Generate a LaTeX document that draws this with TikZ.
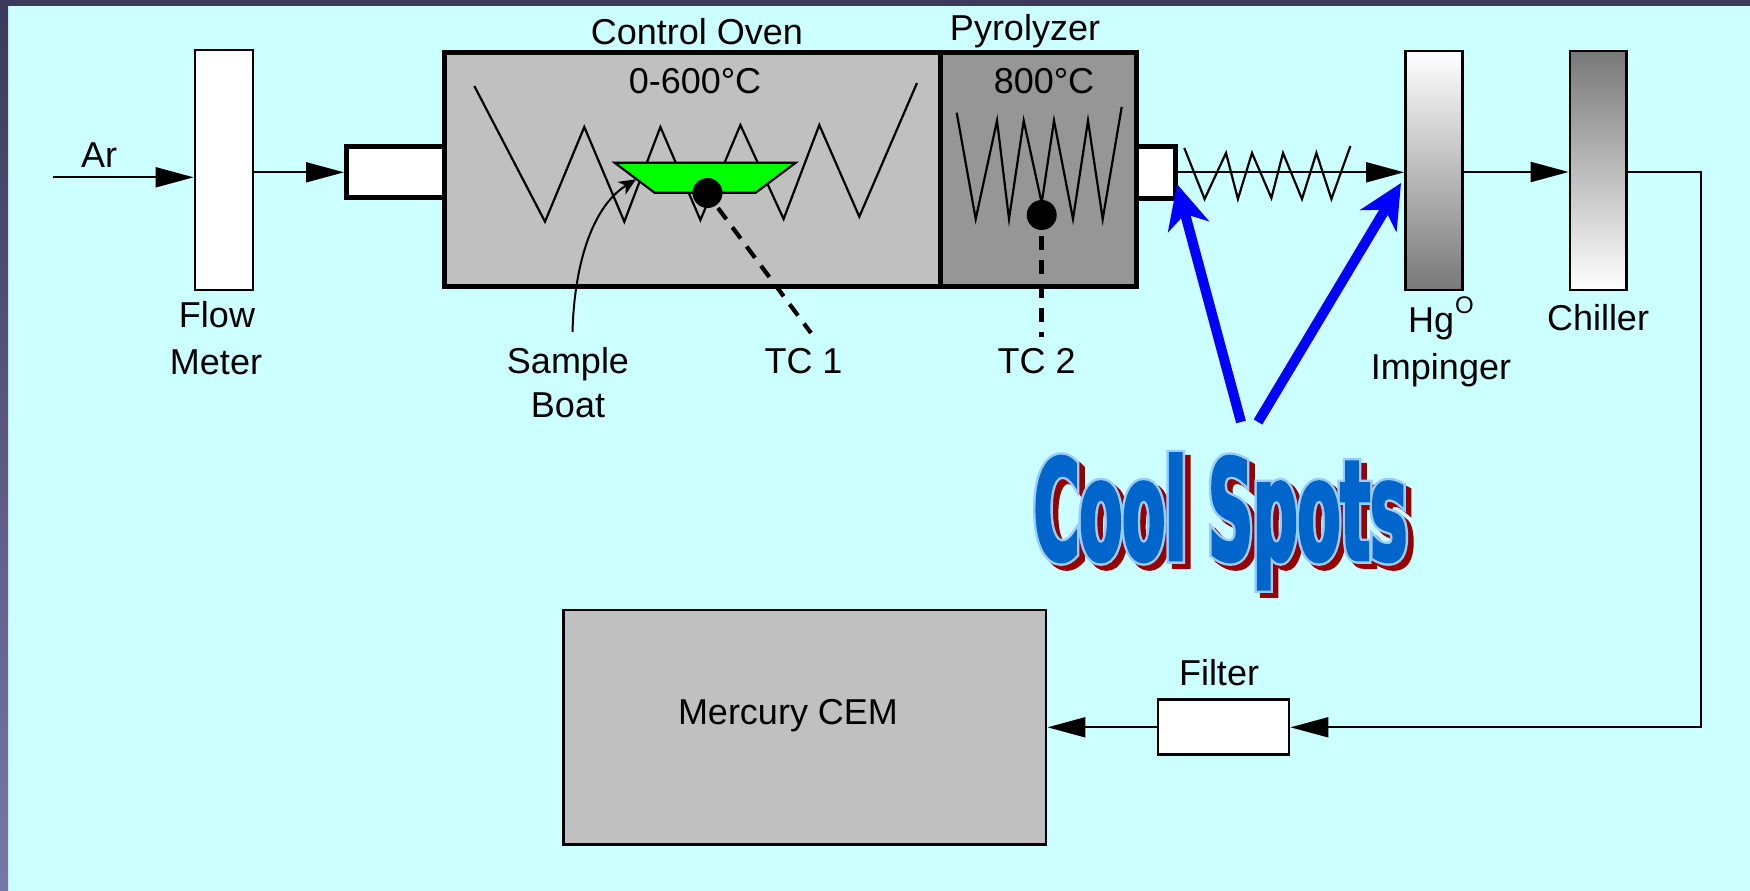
\documentclass[tikz,border=0pt]{standalone}
\usepackage{fontspec}
\usetikzlibrary{arrows.meta}
\setmainfont{Liberation Sans}
\newfontfamily\coolfill[FakeStretch=0.445,FakeBold=2]{DejaVu Sans Bold}
\newfontfamily\cooledge[FakeStretch=0.445,FakeBold=5.5]{DejaVu Sans Bold}
\definecolor{bgcyan}{HTML}{CCFFFF}
\definecolor{barTop}{HTML}{3A3A5A}
\definecolor{barBot}{HTML}{7878A8}
\definecolor{ovengray}{HTML}{C0C0C0}
\definecolor{pyrogray}{HTML}{969696}
\definecolor{coolblue}{HTML}{0066CC}
\definecolor{cooledgec}{HTML}{99CCFF}
\definecolor{coolred}{HTML}{990000}
\tikzset{
  lab/.style={font=\fontsize{36}{36}\selectfont,anchor=base,inner sep=0pt,text=black},
  box/.style={draw=black,line width=2.8pt,inner sep=0pt},
  thickbox/.style={draw=black,line width=5pt,inner sep=0pt},
  flow/.style={line width=2pt,-{Triangle[length=38pt,width=20pt]}},
  coil/.style={line width=2.2pt,line join=miter},
  dashedlead/.style={line width=5pt,dash pattern=on 14pt off 10pt},
  blueptr/.style={draw=blue,line width=10pt,-{Stealth[length=44pt,width=42pt,inset=13pt]},blue},
  cool/.style={anchor=base,inner sep=0pt}
}
\begin{document}
\begin{tikzpicture}[x=1pt,y=-1pt]
\useasboundingbox (0,0) rectangle (1750,891);
\fill[bgcyan] (0,0) rectangle (1750,891);
\shade[top color=barTop,bottom color=barBot] (0,0) rectangle (8,891);
\fill[barTop] (0,0) rectangle (1750,6);

% tubes behind the furnace
\node[thickbox,fill=white,minimum width=100pt,minimum height=51pt] (tube1) at (396.5,172.3) {};
\node[thickbox,fill=white,minimum width=39pt,minimum height=51.5pt] (tube2) at (1155.5,172.3) {};

% furnace
\node[thickbox,fill=ovengray,minimum width=496pt,minimum height=233pt] (oven) at (692,169.5) {};
\node[thickbox,fill=pyrogray,minimum width=196pt,minimum height=233pt] (pyro) at (1038,169.5) {};

% oven coil
\draw[coil] (474.3,86) -- (545,221.7) -- (584.3,127) -- (624.3,221.7) -- (660.4,127) -- (700.4,220) -- (740.4,125) -- (783.6,219) -- (819.3,125) -- (859.3,216.7) -- (917,83);
% boat
\coordinate (b1) at (614.6,162.7);
\coordinate (b2) at (795.7,162.7);
\coordinate (b3) at (755.7,192.7);
\coordinate (b4) at (654.6,192.7);
\draw[fill=green,line width=2.2pt,line join=miter] (b1) -- (b2) -- (b3) -- (b4) -- cycle;
\node[circle,fill=black,inner sep=0pt,minimum size=30pt] (tc1dot) at (707.5,193) {};

% pyrolyzer coil
\draw[coil] (956.7,112.7) -- (975.7,219) -- (997,120.7) -- (1009,219) -- (1023.7,120.7) -- (1041.7,203) -- (1054,120.7) -- (1073,219) -- (1088,120.7) -- (1102.7,219) -- (1121.7,107);
\node[circle,fill=black,inner sep=0pt,minimum size=30pt] (tc2dot) at (1041.7,215) {};

% thermocouple leads
\coordinate (tc1start) at (718,208);
\coordinate (tc2start) at (1041.7,236);
\coordinate (tc1end) at (811,333);
\coordinate (tc2end) at (1041.7,337);
\draw[dashedlead,line width=4.2pt] (tc1start) -- (tc1end);
\draw[dashedlead] (tc2start) -- (tc2end);

% side boxes
\node[box,fill=white,minimum width=58pt,minimum height=240pt] (flowm) at (224,170) {};
\node[box,top color=white,bottom color=black!53,minimum width=57pt,minimum height=239pt] (hg) at (1434,170.5) {};
\node[box,top color=black!53,bottom color=white,minimum width=56.5pt,minimum height=239pt] (chiller) at (1598.3,170.5) {};
\node[box,fill=white,minimum width=131pt,minimum height=55pt] (filter) at (1223.5,727.3) {};
\node[box,fill=ovengray,minimum width=482.3pt,minimum height=234.7pt] (cem) at (804.9,727.3) {};

% spring after the pyrolyzer
\draw[coil] (1184.3,148) -- (1204.6,199) -- (1226,153) -- (1237.9,199) -- (1252,153) -- (1271.4,198) -- (1283,153) -- (1302,199) -- (1316.4,153) -- (1331.4,199) -- (1350.4,146);

% flow connectors
\coordinate (arsrc) at (52.7,177.3);
\coordinate (corner1) at (1700.7,172);
\coordinate (corner2) at (1700.7,727.3);
\draw[flow] (arsrc) -- (flowm.west |- arsrc);
\draw[flow] (flowm.east |- tube1.west) -- (tube1.west);
\draw[flow] (tube2.east) -- (hg.west |- tube2.east);
\draw[flow] (hg.east |- corner1) -- (chiller.west |- corner1);
\draw[flow,line join=miter] (chiller.east |- corner1) -- (corner1) -- (corner2) -- (filter.east);
\draw[flow] (filter.west) -- (cem.east |- filter.west);

% sample boat pointer
\coordinate (sbstart) at (572.5,332);
\coordinate (sbtip) at (636,179.3);
\draw[line width=2pt,-{Stealth[length=17pt,width=15pt,inset=5pt]}] (sbstart) .. controls (574,270) and (590,208) .. (sbtip);

% cool-spot pointers
\coordinate (cs1) at (1241,422);
\coordinate (cs2) at (1258,422);
\coordinate (cs1tip) at (1177,184);
\coordinate (cs2tip) at (1401,183);
\draw[blueptr] (cs1) -- (cs1tip);
\draw[blueptr] (cs2) -- (cs2tip);

% labels
\node[lab] (lAr) at (99,167.7) {Ar};
\node[lab] (lFlow) at (217,327.7) {Flow};
\node[lab] (lMeter) at (216,374) {Meter};
\node[lab] (lCO) at (697,45) {Control Oven};
\node[lab] (lTemp1) at (695,93) {0-600°C};
\node[lab] (lPyro) at (1025,40.7) {Pyrolyzer};
\node[lab] (lTemp2) at (1044,93) {800°C};
\node[lab] (lTC1) at (803.5,373) {TC 1};
\node[lab] (lTC2) at (1036.7,373) {TC 2};
\node[lab] (lSample) at (568,373) {Sample};
\node[lab] (lBoat) at (568,417) {Boat};
\node[lab,anchor=base west] (lHg) at (1408,332) {Hg};
\node[lab,anchor=base west,font=\fontsize{24}{24}\selectfont] (lO) at (1455,313) {O};
\node[lab] (lImp) at (1441,379) {Impinger};
\node[lab] (lChiller) at (1598,330) {Chiller};
\node[lab] (lCEM) at (788,724) {Mercury CEM};
\node[lab] (lFilter) at (1219,685.7) {Filter};

% Cool Spots word art
\node[cool,text=coolred] (cs3) at (1226,565) {\fontsize{140}{140}\cooledge Cool Spots};
\node[cool,text=cooledgec] (cs4) at (1220.5,560) {\fontsize{140}{140}\cooledge Cool Spots};
\node[cool,text=coolblue] (cs5) at (1220.5,560) {\fontsize{140}{140}\coolfill Cool Spots};
\end{tikzpicture}
\end{document}
